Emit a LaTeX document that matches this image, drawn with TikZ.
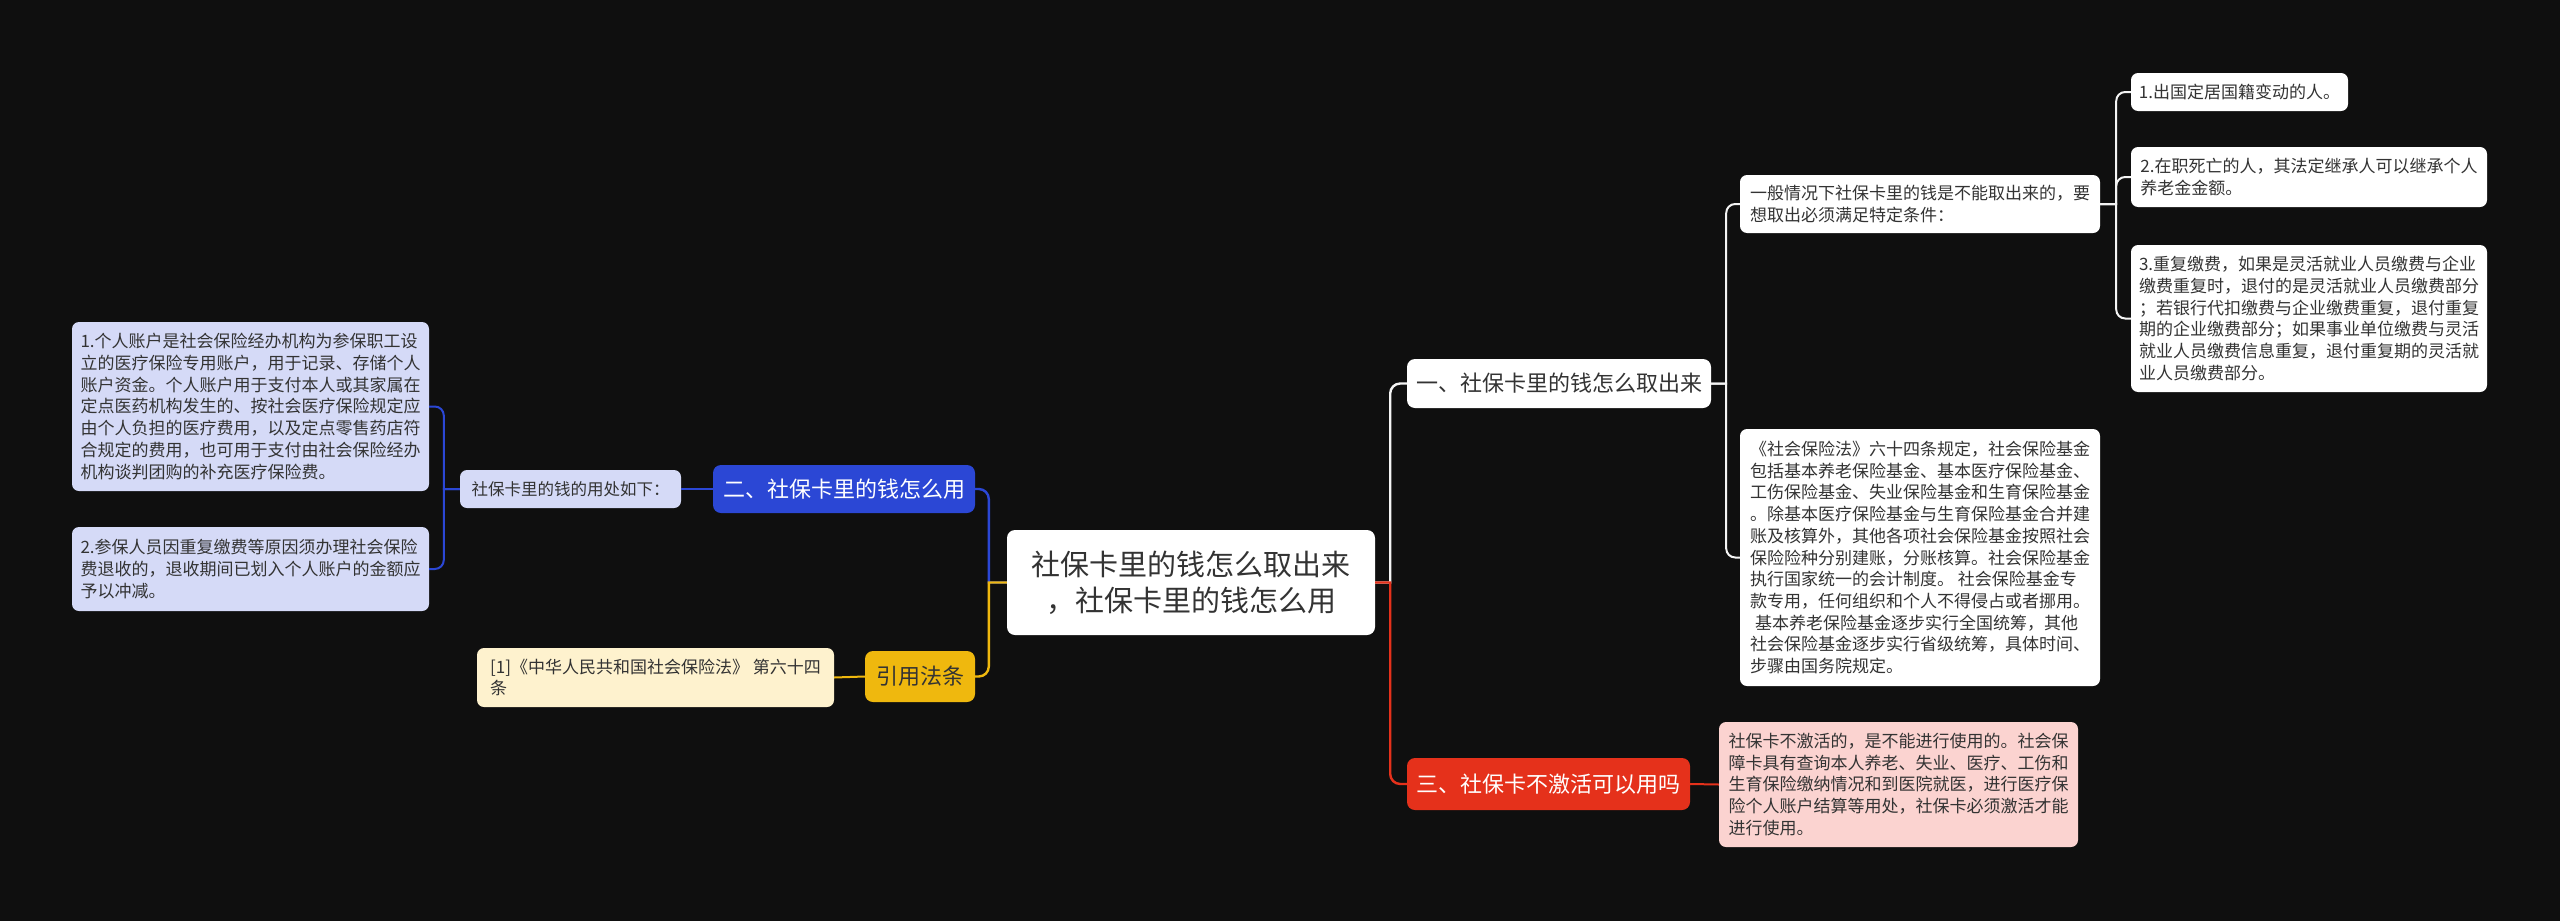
\documentclass[tikz,border=0pt]{standalone}
\usepackage{fontspec}
\setmainfont{Noto Sans CJK SC}
\definecolor{bg}{HTML}{0F0F0F}
\definecolor{blueN}{HTML}{2B47D5}
\definecolor{lav}{HTML}{D5DAF7}
\definecolor{yel}{HTML}{EFB80E}
\definecolor{cream}{HTML}{FEF2CE}
\definecolor{redN}{HTML}{E5311B}
\definecolor{pinkN}{HTML}{FBD3D0}
\definecolor{txt}{HTML}{333333}
\definecolor{wline}{HTML}{F4F4F4}
\tikzset{
  smallbox/.style={rounded corners=7pt, inner sep=0pt, align=left, text=txt,
    font=\fontsize{17}{21.7}\selectfont},
  mainbox/.style={rounded corners=8pt, inner sep=0pt, align=center,
    font=\fontsize{22}{26}\selectfont},
  mainline/.style={line width=2.4pt},
  subline/.style={line width=2pt},
}
\begin{document}
\begin{tikzpicture}[x=1pt,y=-1pt]
\fill[bg] (0,0) rectangle (2560,921);
\useasboundingbox (0,0) rectangle (2560,921);

% center
\node[mainbox, fill=white, text=txt, minimum width=368pt, minimum height=105pt,
  font=\fontsize{29}{36}\selectfont] (c) at (1191,582.5)
  {社保卡里的钱怎么取出来\\，社保卡里的钱怎么用};

% left branch: 二
\node[mainbox, fill=blueN, text=white, minimum width=262pt, minimum height=48pt] (b2) at (844,489) {二、社保卡里的钱怎么用};
\node[smallbox, fill=lav, minimum width=221pt, minimum height=38pt, font=\fontsize{16.5}{20}\selectfont] (u) at (570.5,489) {社保卡里的钱的用处如下：};
\node[smallbox, fill=lav, minimum width=357pt, minimum height=169pt] (l1) at (250.5,406.5)
  {1.个人账户是社会保险经办机构为参保职工设\\立的医疗保险专用账户，用于记录、存储个人\\账户资金。个人账户用于支付本人或其家属在\\定点医药机构发生的、按社会医疗保险规定应\\由个人负担的医疗费用，以及定点零售药店符\\合规定的费用，也可用于支付由社会保险经办\\机构谈判团购的补充医疗保险费。};
\node[smallbox, fill=lav, minimum width=357pt, minimum height=84pt] (l2) at (250.5,569)
  {2.参保人员因重复缴费等原因须办理社会保险\\费退收的，退收期间已划入个人账户的金额应\\予以冲减。};

% left branch: 引用法条
\node[mainbox, fill=yel, text=txt, minimum width=110pt, minimum height=51pt] (yin) at (920,676.5) {引用法条};
\node[smallbox, fill=cream, minimum width=357pt, minimum height=59pt] (ref) at (655.5,677.5)
  {[1]《中华人民共和国社会保险法》 第六十四\\条};

% right branch: 一
\node[mainbox, fill=white, text=txt, minimum width=304pt, minimum height=49pt] (b1) at (1559,383.5) {一、社保卡里的钱怎么取出来};
\node[smallbox, fill=white, minimum width=360pt, minimum height=58pt] (s1) at (1920,204)
  {一般情况下社保卡里的钱是不能取出来的，要\\想取出必须满足特定条件：};
\node[smallbox, fill=white, minimum width=360pt, minimum height=257pt] (s2) at (1920,557.5)
  {《社会保险法》六十四条规定，社会保险基金\\包括基本养老保险基金、基本医疗保险基金、\\工伤保险基金、失业保险基金和生育保险基金\\。除基本医疗保险基金与生育保险基金合并建\\账及核算外，其他各项社会保险基金按照社会\\保险险种分别建账，分账核算。社会保险基金\\执行国家统一的会计制度。 社会保险基金专\\款专用，任何组织和个人不得侵占或者挪用。\\\hspace*{0.3em}基本养老保险基金逐步实行全国统筹，其他\\社会保险基金逐步实行省级统筹，具体时间、\\步骤由国务院规定。};
\node[smallbox, fill=white, minimum width=217pt, minimum height=38pt] (t1) at (2239.5,92) {1.出国定居国籍变动的人。};
\node[smallbox, fill=white, minimum width=356pt, minimum height=60pt] (t2) at (2309,177)
  {2.在职死亡的人，其法定继承人可以继承个人\\养老金金额。};
\node[smallbox, fill=white, minimum width=356pt, minimum height=147pt] (t3) at (2309,318.5)
  {3.重复缴费，如果是灵活就业人员缴费与企业\\缴费重复时，退付的是灵活就业人员缴费部分\\；若银行代扣缴费与企业缴费重复，退付重复\\期的企业缴费部分；如果事业单位缴费与灵活\\就业人员缴费信息重复，退付重复期的灵活就\\业人员缴费部分。};

% right branch: 三
\node[mainbox, fill=redN, text=white, minimum width=283pt, minimum height=52pt] (b3) at (1548.5,784) {三、社保卡不激活可以用吗};
\node[smallbox, fill=pinkN, minimum width=359pt, minimum height=125pt] (pk) at (1898.5,784.5)
  {社保卡不激活的，是不能进行使用的。社会保\\障卡具有查询本人养老、失业、医疗、工伤和\\生育保险缴纳情况和到医院就医，进行医疗保\\险个人账户结算等用处，社保卡必须激活才能\\进行使用。};

% connectors
\draw[mainline, blueN] (c.west) -- ++(-18,0) [rounded corners=10pt] |- (b2.east);
\draw[mainline, yel] (c.west) -- ++(-18,0) [rounded corners=10pt] |- (yin.east);
\draw[mainline, wline] (c.east) -- ++(15,0) [rounded corners=10pt] |- (b1.west);
\draw[mainline, redN] (c.east) -- ++(15,0) [rounded corners=10pt] |- (b3.west);

\draw[subline, blueN] (b2.west) -- (u.east);
\draw[subline, blueN] (u.west) -- ++(-16,0) [rounded corners=9pt] |- (l1.east);
\draw[subline, blueN] (u.west) -- ++(-16,0) [rounded corners=9pt] |- (l2.east);
\draw[subline, yel] (yin.west) -- (ref.east);

\draw[subline, wline] (b1.east) -- ++(15,0) [rounded corners=9pt] |- (s1.west);
\draw[subline, wline] (b1.east) -- ++(15,0) [rounded corners=9pt] |- (s2.west);
\draw[subline, wline] (s1.east) -- ++(16,0) [rounded corners=9pt] |- (t1.west);
\draw[subline, wline] (s1.east) -- ++(16,0) [rounded corners=9pt] |- (t2.west);
\draw[subline, wline] (s1.east) -- ++(16,0) [rounded corners=9pt] |- (t3.west);
\draw[subline, redN] (b3.east) -- (pk.west);
\end{tikzpicture}
\end{document}
